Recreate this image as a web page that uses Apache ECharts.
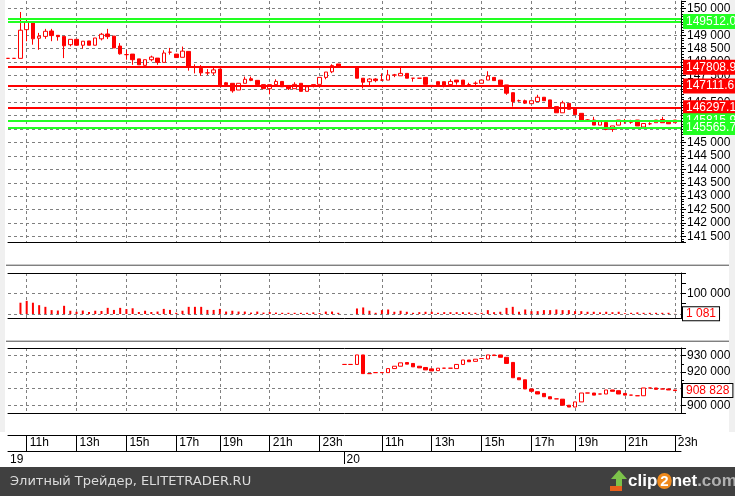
<!DOCTYPE html>
<html><head><meta charset="utf-8">
<script src="https://cdn.jsdelivr.net/npm/echarts@6/dist/echarts.min.js"></script>
<style>html,body{margin:0;padding:0;background:#fff;}#c{width:735px;height:496px;}</style>
</head><body><div id="c"></div>
<script>
const categories = [
 '19 10:15','19 10:30','19 10:45','19 11:00','19 11:15','19 11:30','19 11:45','19 12:00','19 12:15','19 12:30',
 '19 12:45','19 13:00','19 13:15','19 13:30','19 13:45','19 14:00','19 14:15','19 14:30','19 14:45','19 15:00',
 '19 15:15','19 15:30','19 15:45','19 16:00','19 16:15','19 16:30','19 16:45','19 17:00','19 17:15','19 17:30',
 '19 17:45','19 18:00','19 18:15','19 18:30','19 19:00','19 19:15','19 19:30','19 19:45','19 20:00','19 20:15',
 '19 20:30','19 20:45','19 21:00','19 21:15','19 21:30','19 21:45','19 22:00','19 22:15','19 22:30','19 22:45',
 '19 23:00','19 23:15','19 23:30','19 23:45','20 09:30','20 09:45','20 10:00','20 10:15','20 10:30','20 10:45',
 '20 11:00','20 11:15','20 11:30','20 11:45','20 12:00','20 12:15','20 12:30','20 12:45','20 13:00','20 13:15',
 '20 13:30','20 13:45','20 14:00','20 14:15','20 14:30','20 14:45','20 15:00','20 15:15','20 15:30','20 15:45',
 '20 16:00','20 16:15','20 16:30','20 16:45','20 17:00','20 17:15','20 17:30','20 17:45','20 18:00','20 18:15',
 '20 18:30','20 19:00','20 19:15','20 19:30','20 19:45','20 20:00','20 20:15','20 20:30','20 20:45','20 21:00',
 '20 21:15','20 21:30','20 21:45','20 22:00','20 22:15','20 22:30','20 22:45','20 23:00','20 23:15'
];
const hourIdx = [3,11,19,27,34,42,50,60,68,76,84,91,99,107];
const hourLabels = ['11h','13h','15h','17h','19h','21h','23h','11h','13h','15h','17h','19h','21h','23h'];
const dateIdx = [0,54];
const dateLabels = ['19','20'];

const mainOpen = [
 148140,148140,148140,149210,149500,148890,148960,149160,149000,148960,
 148650,148850,148630,148790,148630,148870,149050,148970,148600,148280,
 148300,148120,147880,148090,148150,147990,148370,148300,148180,148400,
 147810,147770,147600,147600,147740,147230,147210,146960,147210,147380,
 147320,147160,147010,147160,147280,147130,147010,147210,146910,147160,
 147170,147430,147640,147930,null,null,147830,147400,147270,147370,
 147330,147330,147520,147490,147580,147400,147400,147430,147130,147270,
 147270,147160,147330,147330,147160,147210,147210,147330,147430,147330,
 147150,146860,146560,146560,146450,146530,146690,146590,146340,146110,
 146460,146290,146090,145840,145840,145650,145750,145490,145650,145780,
 145760,145840,145580,145700,145740,145860,145760,145740,null];
const mainClose = [
 148140,148140,149190,149500,148870,148970,149150,148990,148950,148610,
 148850,148630,148780,148630,148900,149040,148950,148530,148310,148280,
 148090,147900,148090,148190,147990,148340,148370,148170,148410,147830,
 147810,147600,147600,147710,147150,147160,146930,147210,147360,147320,
 147160,147010,147160,147280,147080,147010,147170,146910,147080,147110,
 147430,147630,147870,147830,null,null,147400,147250,147370,147310,
 147330,147520,147520,147580,147400,147400,147400,147170,147130,147160,
 147110,147280,147260,147160,147160,147210,147330,147480,147310,147160,
 146840,146530,146560,146470,146560,146690,146560,146280,146110,146480,
 146240,146040,145840,145840,145650,145780,145490,145620,145840,145780,
 145760,145620,145710,145700,145840,145740,145700,145840,null];
const mainLow = [
 148140,148140,148140,148780,148650,148460,148870,148780,148800,148150,
 148590,148630,148500,148630,148630,148810,148860,148530,148280,148090,
 147900,147900,147880,148030,147900,147990,148280,148170,148180,147680,
 147580,147490,147520,147520,147150,147120,146860,146960,147210,147290,
 147160,147010,146800,147160,147080,146960,147010,146910,146910,147060,
 147170,147360,147590,147830,null,null,147400,147020,147080,147250,
 147300,147330,147440,147490,147400,147270,147400,147170,147130,147160,
 147060,147090,147160,147160,147160,147130,147210,147330,147310,147160,
 146780,146340,146520,146440,146450,146530,146560,146280,146110,146110,
 146240,146040,145780,145780,145650,145650,145460,145400,145650,145700,
 145700,145620,145580,145650,145740,145740,145700,145740,null];
const mainHigh = [
 148140,148140,149870,149610,149500,149090,149240,149240,149000,148960,
 148850,148850,148780,148790,148900,149090,149240,148970,148710,148460,
 148300,148120,148090,148240,148150,148440,148530,148300,148580,148400,
 147920,147890,147740,147790,147740,147260,147210,147210,147460,147460,
 147320,147160,147160,147360,147280,147130,147250,147210,147080,147160,
 147430,147630,147920,147930,null,null,147830,147400,147400,147400,
 147580,147710,147560,147790,147580,147400,147400,147430,147130,147270,
 147270,147360,147330,147330,147230,147280,147330,147660,147430,147330,
 147150,146860,146600,146600,146560,146780,146690,146590,146340,146560,
 146460,146290,146090,145870,145960,145780,145750,145620,145840,145880,
 145850,145840,145710,145760,145840,145960,145760,145840,null];
const volume = [
 null,null,55000,64000,55000,43000,35000,19000,17000,40000,
 16000,11000,17000,10000,16000,15000,30000,20000,30000,24000,
 28000,10000,16000,10000,12000,25000,20000,6000,16000,35000,
 35000,35000,20000,20000,25000,12000,16000,12000,12000,7000,
 12000,7000,10000,7000,6000,6000,6000,6000,6000,8000,
 5000,12000,12000,6000,null,null,27000,32000,16000,6000,
 19000,22000,11000,16000,11000,6000,9000,11000,11000,6000,
 9000,9000,9000,9000,8000,6000,6000,19000,9000,11000,
 30000,35000,11000,22000,14000,14000,19000,19000,22000,19000,
 19000,14000,14000,11000,11000,8000,11000,9000,11000,4000,
 6000,8000,6000,6000,6000,6000,6000,1081,null];
const indOpen = [
 null,null,null,null,null,null,null,null,null,null,
 null,null,null,null,null,null,null,null,null,null,
 null,null,null,null,null,null,null,null,null,null,
 null,null,null,null,null,null,null,null,null,null,
 null,null,null,null,null,null,null,null,null,null,
 null,null,null,null,924630,924630,924630,930370,919090,919700,
 919700,919700,922130,923560,925800,925240,923560,922800,921950,920900,
 922370,922370,922130,924630,927320,926500,928200,927930,930370,930370,
 928960,925850,916590,915370,909820,908170,907130,905120,903840,903660,
 900000,898900,902010,907380,907380,906770,906770,909210,908780,907130,
 906100,905730,905730,910430,910430,909800,909800,909210,null];
const indClose = [
 null,null,null,null,null,null,null,null,null,null,
 null,null,null,null,null,null,null,null,null,null,
 null,null,null,null,null,null,null,null,null,null,
 null,null,null,null,null,null,null,null,null,null,
 null,null,null,null,null,null,null,null,null,null,
 null,null,null,null,924630,924630,930370,919090,919090,919700,
 919700,922130,923560,925610,924800,923170,922560,921340,920730,922370,
 922370,922370,924630,927320,926280,927800,928200,930370,930000,928960,
 925240,916590,915370,909820,908410,906770,905120,903840,903840,900000,
 898900,902010,907380,907380,906100,906770,909210,908410,906770,906100,
 906100,905730,910430,910430,909600,909800,909210,908828,null];
const levelValues = [149620, 149512.0, 147808.9, 147111.6, 146297.1, 145815.9, 145565.7];
const levelKinds  = ['g','g','r','r','r','g','g'];
const levelShowLabel = [false,true,true,true,true,true,true];

const RED = '#ff0000', GREEN = '#22ff22';
const FONT = '"Liberation Sans", Arial, sans-serif';
const fmtSp = v => String(Math.round(v)).replace(/\B(?=(\d{3})+(?!\d))/g, ' ');
const hourSet = new Set(hourIdx);
const dash = {color:'#7f7f7f', type:[3,3], width:1};
const vSplit = {show:true, interval:(i)=>hourSet.has(i), lineStyle:dash};
const blackLine = {show:true, onZero:false, lineStyle:{color:'#000', width:1}};
function catAxis(grid, extra){
  return Object.assign({type:'category', gridIndex:grid, data:categories, boundaryGap:false,
    axisLine:{show:false}, axisTick:{show:false}, axisLabel:{show:false}, splitLine:{show:false}}, extra);
}
const mainData = mainOpen.map((o,i)=> o==null ? '-' : [o, mainClose[i], mainLow[i], mainHigh[i]]);
const indData = indOpen.map((o,i)=> o==null ? '-' : [o, indClose[i], Math.min(o, indClose[i]), Math.max(o, indClose[i])]);
const candleStyle = {color:'#fff', color0:RED, borderColor:RED, borderColor0:RED, borderColorDoji:RED, borderWidth:1};

const levelLines = levelValues.map((v,i)=>{
  const col = levelKinds[i]==='g' ? GREEN : RED;
  return {yAxis:v, lineStyle:{color:col, width:2, type:'solid'},
    label:{show:levelShowLabel[i], position:'end', distance:2, formatter:v.toFixed(1), color:'#fff',
      backgroundColor:col, padding:[2,12,1,3], fontSize:12, fontFamily:FONT}};
});
const lastVol = volume[107];
const lastInd = indClose[107];
const boxLabel = txt => ({show:true, position:'end', distance:2, formatter:txt, color:RED, backgroundColor:'#fff',
  borderColor:'#000', borderWidth:1, padding:[1,3,0,3], fontSize:12, fontFamily:FONT});
const axisLbl = f => ({show:true, margin:6, color:'#000', fontSize:12, fontFamily:FONT, formatter:f});

const chart = echarts.init(document.getElementById('c'), null, {renderer:'canvas', width:735, height:496});
chart.setOption({
  animation:false,
  backgroundColor:'#ffffff',
  grid:[
    {left:8, top:1, width:673, height:241},
    {left:8, top:273, width:673, height:45},
    {left:8, top:348, width:673, height:65},
    {left:8, top:435, width:673, height:16}
  ],
  xAxis:[
    catAxis(0, {position:'bottom', axisLine:blackLine, splitLine:vSplit}),
    catAxis(1, {position:'bottom', axisLine:blackLine, splitLine:vSplit}),
    catAxis(1, {position:'top', axisLine:blackLine}),
    catAxis(2, {position:'bottom', axisLine:blackLine, splitLine:vSplit}),
    catAxis(2, {position:'top', axisLine:blackLine}),
    catAxis(3, {position:'top', axisLine:blackLine,
      axisTick:{show:true, inside:true, length:16, interval:(i)=>hourSet.has(i), lineStyle:{color:'#000'}},
      axisLabel:{show:true, inside:true, interval:(i)=>hourSet.has(i), formatter:(v,i)=>hourLabels[hourIdx.indexOf(i)] || '',
        align:'left', margin:2, padding:[0,0,0,3], color:'#000', fontSize:12, fontFamily:FONT}}),
    catAxis(3, {position:'bottom', axisLine:blackLine,
      axisTick:{show:true, length:13, interval:(i)=>i===dateIdx[1], lineStyle:{color:'#000'}},
      axisLabel:{show:true, interval:(i)=>dateIdx.includes(i), formatter:(v,i)=>dateLabels[dateIdx.indexOf(i)] || '',
        align:'left', margin:3, padding:[0,0,0,2], color:'#000', fontSize:12, fontFamily:FONT}})
  ],
  yAxis:[
    {type:'value', gridIndex:0, position:'right', min:141290, max:150280, minInterval:500, maxInterval:500,
      axisLine:{show:true, lineStyle:{color:'#000'}}, axisTick:{show:true, length:5, lineStyle:{color:'#000'}},
      minorTick:{show:true, splitNumber:5, length:3, lineStyle:{color:'#000'}},
      splitLine:{show:true, showMinLine:false, showMaxLine:false, lineStyle:dash},
      axisLabel:axisLbl(v => v % 500 === 0 ? fmtSp(v) : '')},
    {type:'value', gridIndex:1, position:'right', min:-19300, max:199500, minInterval:50000, maxInterval:50000,
      axisLine:{show:true, lineStyle:{color:'#000'}}, axisTick:{show:true, length:5, lineStyle:{color:'#000'}},
      splitLine:{show:false},
      axisLabel:axisLbl(v => v === 100000 ? fmtSp(v) : '')},
    {type:'value', gridIndex:1, position:'left', min:-19300, max:199500, minInterval:100000, maxInterval:100000,
      axisLine:{show:false}, axisTick:{show:false}, axisLabel:{show:false},
      splitLine:{show:true, showMinLine:false, showMaxLine:false, lineStyle:dash}},
    {type:'value', gridIndex:2, position:'right', min:895300, max:934570, minInterval:10000, maxInterval:10000,
      axisLine:{show:true, lineStyle:{color:'#000'}}, axisTick:{show:true, length:5, lineStyle:{color:'#000'}},
      minorTick:{show:true, splitNumber:2, length:3, lineStyle:{color:'#000'}},
      splitLine:{show:true, showMinLine:false, showMaxLine:false, lineStyle:dash},
      axisLabel:axisLbl(v => v % 10000 === 0 ? fmtSp(v) : '')},
    {type:'value', gridIndex:3, show:false}
  ],
  series:[
    {type:'candlestick', xAxisIndex:0, yAxisIndex:0, data:mainData, barWidth:4, clip:false, itemStyle:candleStyle,
      markLine:{silent:true, animation:false, symbol:['none','none'], data:levelLines}},
    {type:'bar', xAxisIndex:1, yAxisIndex:1, data:volume, barWidth:2, itemStyle:{color:RED},
      markLine:{silent:true, animation:false, symbol:['none','none'],
        data:[{yAxis:lastVol, lineStyle:{color:'rgba(0,0,0,0)', width:1}, label:boxLabel(fmtSp(lastVol))}]}},
    {type:'candlestick', xAxisIndex:3, yAxisIndex:3, data:indData, barWidth:4, clip:false, itemStyle:candleStyle,
      markLine:{silent:true, animation:false, symbol:['none','none'],
        data:[{yAxis:lastInd, lineStyle:{color:'rgba(0,0,0,0)', width:1}, label:boxLabel(fmtSp(lastInd))}]}}
  ],
  graphic:[
    {type:'rect', silent:true, shape:{x:0,y:0,width:5,height:432}, style:{fill:'#f0f0f0'}},
    {type:'rect', silent:true, shape:{x:729,y:0,width:6,height:432}, style:{fill:'#f0f0f0'}},
    {type:'rect', silent:true, shape:{x:6,y:264,width:723,height:1}, style:{fill:'#c8c8c8'}},
    {type:'rect', silent:true, shape:{x:6,y:265,width:723,height:1}, style:{fill:'#808080'}},
    {type:'rect', silent:true, shape:{x:6,y:340,width:723,height:1}, style:{fill:'#c8c8c8'}},
    {type:'rect', silent:true, shape:{x:6,y:341,width:723,height:1}, style:{fill:'#808080'}},
    {type:'rect', silent:true, shape:{x:0,y:467,width:735,height:29}, style:{fill:'#404040'}},
    {type:'text', silent:true, x:10, y:482, style:{text:'Элитный Трейдер, ELITETRADER.RU', fill:'#dcdcdc',
      font:'13px "DejaVu Sans", sans-serif', verticalAlign:'middle'}},
    {type:'polygon', silent:true, shape:{points:[[619,470],[611,479],[616,479],[616,486],[622,486],[622,479],[627,479]]}, style:{fill:'#7cc24a'}},
    {type:'rect', silent:true, shape:{x:610,y:486,width:12,height:5}, style:{fill:'#e8601c'}},
    {type:'text', silent:true, x:628, y:481, style:{text:'{a|clip}{b|2}{a|net}{c|.com}', verticalAlign:'middle',
      rich:{a:{fill:'#ffffff', fontSize:17, fontWeight:'bold', fontFamily:FONT},
            b:{fill:'#ffffff', fontSize:15, fontWeight:'bold', fontFamily:FONT, backgroundColor:'#f08a1c', borderRadius:9, padding:[1,3,0,3]},
            c:{fill:'#b0b0b0', fontSize:17, fontWeight:'bold', fontFamily:FONT}}}}
  ]
});
</script>
</body></html>
